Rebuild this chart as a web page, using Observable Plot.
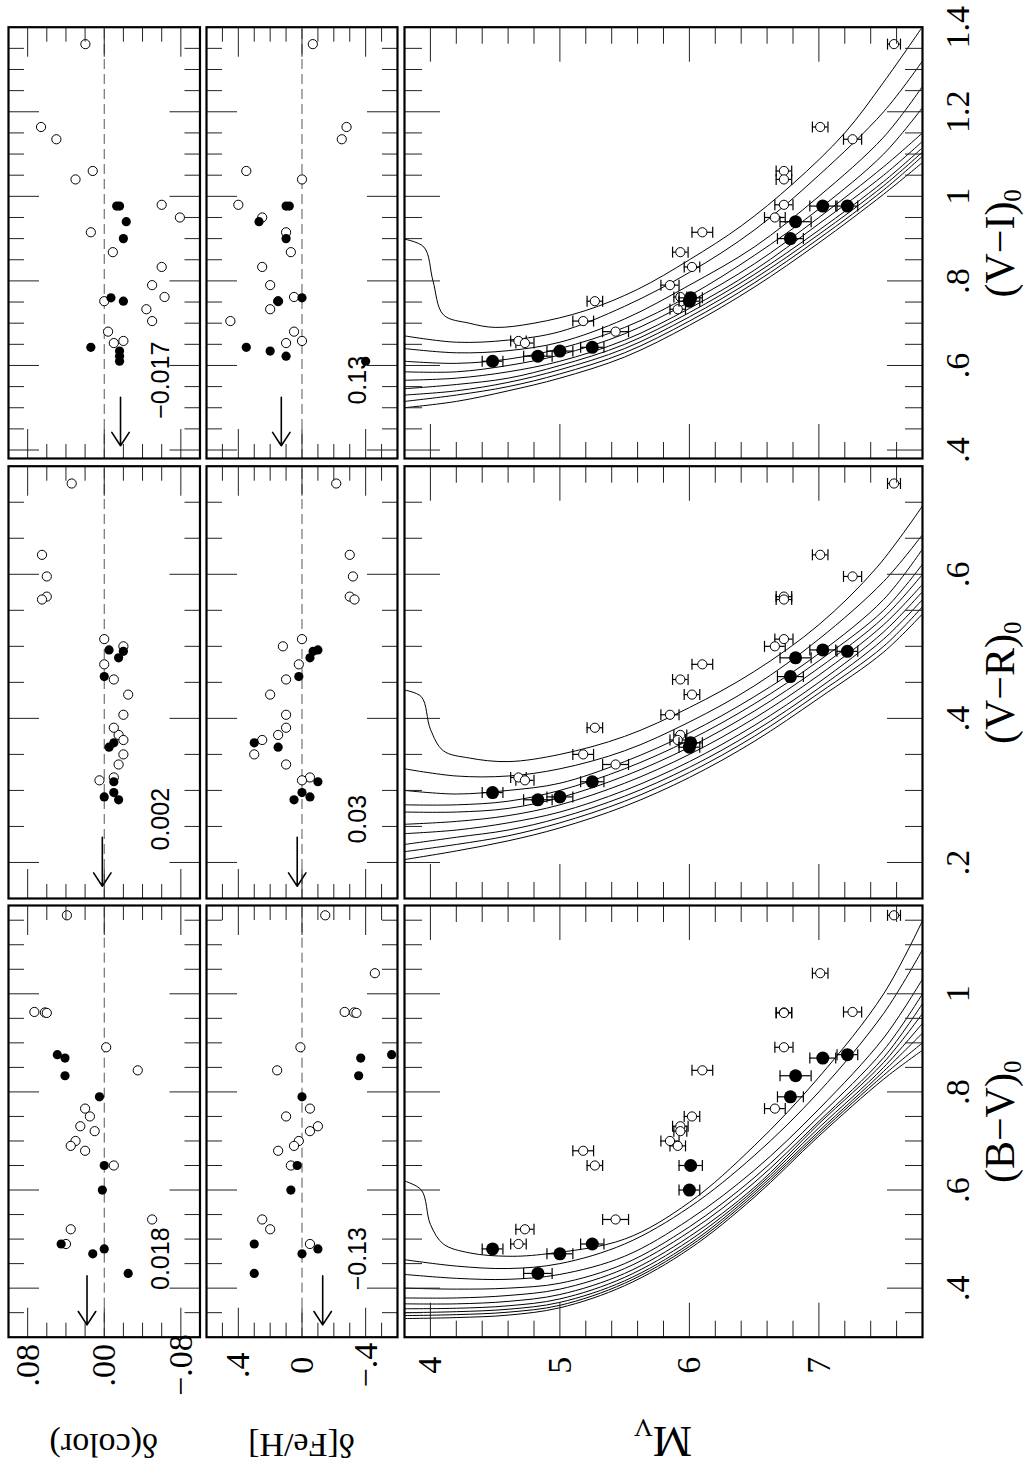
<!DOCTYPE html>
<html>
<head>
<meta charset="utf-8">
<script src="https://cdn.jsdelivr.net/npm/d3@7"></script>
<script src="https://cdn.jsdelivr.net/npm/@observablehq/plot@0.6"></script>
<style>
  html, body { margin: 0; padding: 0; background: #fff; }
  body { width: 1028px; height: 1469px; position: relative; overflow: hidden; }
  /* the figure is laid out in landscape and turned a quarter turn */
  #fig { position: absolute; left: 0; top: 0; width: 1469px; height: 1028px;
         transform-origin: 0 0; transform: translate(0, 1469px) rotate(-90deg); }
  #fig svg { position: absolute; overflow: visible; }
</style>
</head>
<body>
<div id="fig"></div>
<script>
// ---------------- data ----------------
// one entry per star
const starMv     = [7.58, 7.01, 7.26, 6.73, 6.73, 6.73, 6.66, 6.10, 5.93, 6.02, 5.85, 5.93, 5.91, 5.27, 5.18, 5.43, 4.68, 4.73,
                    7.03, 7.22, 6.82, 6.78, 6.01, 6.00, 5.25, 5.00, 4.83, 4.48];
const starMvErr  = [0.05, 0.06, 0.07, 0.06, 0.06, 0.07, 0.08, 0.08, 0.06, 0.06, 0.07, 0.05, 0.06, 0.06, 0.08, 0.10, 0.06, 0.07,
                    0.10, 0.08, 0.12, 0.10, 0.09, 0.08, 0.09, 0.10, 0.11, 0.08];
const starFilled = [0,0,0,0,0,0,0,0,0,0,0,0,0,0,0,0,0,0, 1,1,1,1,1,1,1,1,1,1];

const colorBV = [1.16, 1.042, 0.963, 0.962, 0.961, 0.891, 0.766, 0.844, 0.73, 0.75, 0.70, 0.72, 0.69, 0.65, 0.68, 0.54, 0.49, 0.52,
                 0.869, 0.876, 0.833, 0.79, 0.65, 0.60, 0.49, 0.47, 0.43, 0.48];
const colorVR = [0.726, 0.627, 0.597, 0.569, 0.565, 0.51, 0.50, 0.475, 0.454, 0.433, 0.405, 0.377, 0.37, 0.387, 0.35, 0.336, 0.318, 0.314,
                 0.495, 0.493, 0.484, 0.458, 0.366, 0.36, 0.312, 0.291, 0.287, 0.297];
const colorVI = [1.36, 1.164, 1.135, 1.06, 1.04, 0.98, 0.95, 0.915, 0.868, 0.833, 0.79, 0.762, 0.733, 0.752, 0.705, 0.68, 0.658, 0.653,
                 0.977, 0.977, 0.94, 0.90, 0.76, 0.752, 0.643, 0.634, 0.622, 0.61];

// NaN: offset falls outside the panel
const dColorBV = [0.039, NaN, 0.073, 0.062, 0.060, -0.002, 0.02, -0.035, 0.025, 0.015, 0.03, 0.01, 0.035, -0.01, 0.02, -0.05, 0.04, 0.035,
                  0.041, 0.049, 0.041, 0.005, 0.0, 0.002, 0.045, 0.012, -0.025, 0.0];
const dColorVR = [0.034, 0.065, 0.06, 0.06, 0.065, 0.0, -0.02, 0.0, -0.01, -0.025, -0.02, -0.015, -0.02, -0.01, -0.02, -0.015, -0.01, 0.005,
                  -0.005, -0.02, -0.015, 0.0, -0.01, -0.005, -0.01, 0.0, -0.015, -0.01];
const dColorVI = [0.0197, 0.066, 0.05, 0.012, 0.03, -0.06, -0.079, 0.014, -0.009, -0.06, -0.05, -0.063, -0.044, 0.0, -0.05, -0.004, -0.02, -0.01,
                  -0.013, -0.016, -0.023, -0.02, -0.007, -0.02, 0.014, -0.016, -0.016, -0.016];

const dFeBV = [-0.146, -0.458, -0.268, -0.327, -0.342, 0.01, -0.05, 0.156, -0.1, 0.1, 0.02, -0.05, 0.05, 0.07, 0.15, 0.25, -0.05, 0.2,
               -0.369, -0.563, -0.356, 0.0, 0.03, 0.07, 0.3, 0.0, 0.3, -0.1];
const dFeVR = [-0.215, -0.3, -0.32, -0.3, -0.33, 0.0, 0.12, 0.02, 0.1, 0.2, 0.1, 0.15, 0.25, 0.1, 0.3, 0.1, -0.05, 0.0,
               -0.1, -0.07, -0.05, 0.02, 0.3, 0.15, -0.1, -0.05, 0.05, 0.0];
const dFeVI = [-0.068, -0.28, -0.25, 0.35, 0.0, 0.4, 0.25, 0.1, 0.07, 0.25, 0.2, 0.05, 0.2, 0.15, 0.45, 0.05, 0.0, 0.1,
               0.1, 0.08, 0.27, 0.1, 0.0, 0.15, 0.35, 0.2, 0.1, -0.4];

// mean offsets marked by the arrows and printed in each panel
const meanColorShift = [0.018, 0.002, -0.017];   // B−V, V−R, V−I
const meanFeShift    = [-0.13, 0.03, 0.13];
const shiftDigits    = [[3, 3, 3], [2, 2, 2]];

// isochrones: colour at each M_V level of the grid (nine main sequences per colour),
// plus one curve per colour that turns over into the subgiant branch
const mvGrid = [3.8, 4.2, 4.6, 5.0, 5.5, 6.0, 6.5, 7.0, 7.5, 7.8];
const seqBV = [
  [0.458, 0.445, 0.44, 0.45, 0.49, 0.565, 0.67, 0.80, 0.96, 1.09],
  [0.428, 0.42, 0.418, 0.428, 0.465, 0.54, 0.64, 0.765, 0.91, 1.03],
  [0.40, 0.398, 0.40, 0.41, 0.45, 0.525, 0.625, 0.75, 0.885, 1.00],
  [0.38, 0.38, 0.385, 0.398, 0.44, 0.515, 0.615, 0.74, 0.87, 0.98],
  [0.368, 0.368, 0.373, 0.387, 0.43, 0.505, 0.605, 0.735, 0.86, 0.96],
  [0.358, 0.359, 0.364, 0.378, 0.422, 0.497, 0.60, 0.727, 0.85, 0.94],
  [0.35, 0.352, 0.357, 0.371, 0.415, 0.49, 0.595, 0.72, 0.842, 0.92],
  [0.344, 0.346, 0.351, 0.365, 0.41, 0.485, 0.59, 0.715, 0.834, 0.90],
  [0.338, 0.34, 0.345, 0.36, 0.405, 0.48, 0.585, 0.71, 0.826, 0.885]
];
const turnBV = [[0.62, 3.78], [0.60, 3.93], [0.53, 4.0], [0.49, 4.1], [0.472, 4.3], [0.465, 4.6], [0.47, 4.9],
                [0.50, 5.5], [0.575, 6.0], [0.69, 6.5], [0.83, 7.0], [1.0, 7.5], [1.16, 7.82]];
const seqVR = [
  [0.33, 0.32, 0.32, 0.33, 0.355, 0.395, 0.445, 0.51, 0.59, 0.655],
  [0.30, 0.295, 0.30, 0.31, 0.34, 0.38, 0.43, 0.49, 0.565, 0.635],
  [0.28, 0.28, 0.285, 0.30, 0.33, 0.37, 0.42, 0.48, 0.55, 0.614],
  [0.27, 0.27, 0.275, 0.29, 0.32, 0.36, 0.41, 0.47, 0.54, 0.60],
  [0.253, 0.257, 0.265, 0.28, 0.31, 0.35, 0.40, 0.46, 0.53, 0.586],
  [0.24, 0.245, 0.255, 0.27, 0.30, 0.34, 0.39, 0.45, 0.52, 0.576],
  [0.225, 0.235, 0.245, 0.262, 0.292, 0.332, 0.382, 0.442, 0.51, 0.565],
  [0.215, 0.225, 0.237, 0.255, 0.285, 0.325, 0.375, 0.435, 0.50, 0.555],
  [0.204, 0.216, 0.23, 0.248, 0.278, 0.318, 0.368, 0.428, 0.492, 0.545]
];
const turnVR = [[0.44, 3.78], [0.43, 3.93], [0.385, 4.0], [0.355, 4.1], [0.345, 4.3], [0.34, 4.6], [0.35, 5.0],
                [0.375, 5.5], [0.415, 6.0], [0.465, 6.5], [0.53, 7.0], [0.61, 7.45], [0.70, 7.82]];
const seqVI = [
  [0.67, 0.655, 0.66, 0.68, 0.74, 0.82, 0.92, 1.05, 1.20, 1.32],
  [0.64, 0.63, 0.635, 0.655, 0.71, 0.79, 0.88, 1.00, 1.14, 1.26],
  [0.61, 0.605, 0.615, 0.64, 0.69, 0.765, 0.86, 0.97, 1.10, 1.21],
  [0.585, 0.585, 0.60, 0.625, 0.675, 0.75, 0.84, 0.95, 1.07, 1.15],
  [0.565, 0.57, 0.585, 0.61, 0.66, 0.735, 0.825, 0.935, 1.05, 1.13],
  [0.545, 0.555, 0.57, 0.60, 0.65, 0.725, 0.815, 0.92, 1.035, 1.115],
  [0.53, 0.54, 0.56, 0.59, 0.64, 0.715, 0.805, 0.91, 1.025, 1.105],
  [0.515, 0.53, 0.55, 0.58, 0.63, 0.705, 0.795, 0.90, 1.015, 1.095],
  [0.50, 0.515, 0.54, 0.57, 0.62, 0.695, 0.785, 0.89, 1.005, 1.08]
];
const turnVI = [[0.90, 3.78], [0.88, 3.95], [0.80, 4.02], [0.72, 4.1], [0.70, 4.3], [0.69, 4.5], [0.70, 4.8],
                [0.73, 5.2], [0.78, 5.6], [0.85, 6.0], [0.93, 6.4], [1.03, 6.8], [1.15, 7.2], [1.27, 7.5], [1.41, 7.82]];

// tick labels
const labelsBV = [".4", ".6", ".8", "1"];
const labelsVR = [".2", ".4", ".6"];
const labelsVI = [".4", ".6", ".8", "1", "1.2", "1.4"];
const labelsDColor = ["−.08", ".00", ".08"];
const labelsDFe = ["−.4", "0", ".4"];
const labelsMv = ["4", "5", "6", "7"];

// ---------------- layout ----------------
const SERIF = "'Liberation Serif', 'Times New Roman', serif";
const SANS = "'Liberation Sans', Arial, sans-serif";
const FIG_H = 1028;

const stars = starMv.map((mv, i) => ({
  mv, err: starMvErr[i], filled: starFilled[i] === 1,
  BV: colorBV[i], VR: colorVR[i], VI: colorVI[i],
  dcBV: dColorBV[i], dcVR: dColorVR[i], dcVI: dColorVI[i],
  dfBV: dFeBV[i], dfVR: dFeVR[i], dfVI: dFeVI[i]
}));
const openStars = stars.filter(d => !d.filled);
const filledStars = stars.filter(d => d.filled);

const columns = [
  {key: "BV", x0: 131.3, x1: 563, domain: [0.3, 1.18], major: [0.4, 0.6, 0.8, 1.0], labels: labelsBV,
   title: "(B−V)", seq: seqBV, turn: turnBV, arrow: [0.425, 0.325], note: 0.46},
  {key: "VR", x0: 570, x1: 1002.3, domain: [0.15, 0.75], major: [0.2, 0.4, 0.6], labels: labelsVR,
   title: "(V−R)", seq: seqVR, turn: turnVR, arrow: [0.235, 0.167], note: 0.26},
  {key: "VI", x0: 1009.7, x1: 1441, domain: [0.38, 1.4], major: [0.4, 0.6, 0.8, 1.0, 1.2, 1.4], labels: labelsVI,
   title: "(V−I)", seq: seqVI, turn: turnVI, arrow: [0.525, 0.41], note: 0.565}
];
const rows = [
  {key: "dc", y0: 7.5, y1: 199, domain: [-0.1, 0.1], reverse: false, major: [-0.08, 0, 0.08], labels: labelsDColor,
   minor: 0.02, tMaj: 30, tMin: 15, title: "δ(color)", size: 34, shifts: meanColorShift, noteY: -0.068},
  {key: "df", y0: 206, y1: 397, domain: [-0.6, 0.6], reverse: false, major: [-0.4, 0, 0.4], labels: labelsDFe,
   minor: 0.1, tMaj: 30, tMin: 15, title: "δ[Fe/H]", size: 34, shifts: meanFeShift, noteY: -0.40},
  {key: "mv", y0: 404, y1: 922, domain: [3.8, 7.8], reverse: true, major: [4, 5, 6, 7], labels: labelsMv,
   minor: 0.2, tMaj: 35, tMin: 17, title: "M", sub: "V", size: 44}
];

function minorTicks(domain, step, major) {
  const [a, b] = d3.extent(domain);
  const out = [];
  for (let k = Math.ceil(a / step - 1e-9); k * step <= b + 1e-9; k++) {
    const v = +(k * step).toFixed(6);
    if (v > a + 1e-9 && v < b - 1e-9 && !major.some(m => Math.abs(m - v) < 1e-9)) out.push(v);
  }
  return out;
}
const labelOf = (values, labels) => d => labels[values.findIndex(v => Math.abs(v - d) < 1e-9)];

// inward ticks on all four sides of a panel
function panelTicks(col, row) {
  const common = {fill: "none", label: null, stroke: "#222", strokeWidth: 1};
  const xMinor = minorTicks(col.domain, 0.05, col.major);
  const yMinor = minorTicks(row.domain, row.minor, row.major);
  const out = [];
  for (const anchor of ["top", "bottom"]) {
    out.push(Plot.axisX({...common, anchor, ticks: col.major, tickSize: -row.tMaj}));
    out.push(Plot.axisX({...common, anchor, ticks: xMinor, tickSize: -row.tMin}));
  }
  for (const anchor of ["left", "right"]) {
    out.push(Plot.axisY({...common, anchor, ticks: row.major, tickSize: -row.tMaj}));
    out.push(Plot.axisY({...common, anchor, ticks: yMinor, tickSize: -row.tMin}));
  }
  return out;
}

// error-bar cap drawn as a short horizontal stroke
const capSymbol = {draw(context, size) { const w = Math.sqrt(size / Math.PI); context.moveTo(-w, 0); context.lineTo(w, 0); }};

function addTitle(svg, {x, y, rotate, size, main, sub, subSize, subShift}) {
  const t = d3.select(svg).append("text")
    .attr("transform", `translate(${x},${y})` + (rotate ? ` rotate(${rotate})` : ""))
    .attr("text-anchor", "middle").attr("font-family", SERIF).attr("font-size", size).attr("fill", "black");
  t.append("tspan").text(main);
  if (sub) t.append("tspan").attr("font-size", subSize).attr("dy", subShift).text(sub);
}

const fig = document.getElementById("fig");

columns.forEach((col, ci) => {
  rows.forEach((row, ri) => {
    const first = ci === 0, bottom = row.key === "mv";
    const ml = first ? col.x0 : 3, mr = 3, mt = 3, mb = bottom ? FIG_H - row.y1 : 3;
    const w = col.x1 - col.x0, h = row.y1 - row.y0;
    const marks = [];
    const line = {x: d => d[0], y: d => d[1], curve: "catmull-rom", clip: true, stroke: "black", strokeWidth: 1};

    if (row.key === "mv") {
      for (const s of col.seq) marks.push(Plot.line(mvGrid.map((mv, i) => [s[i], mv]), line));
      marks.push(Plot.line(col.turn, line));
      for (const [set, r] of [[openStars, 4.6], [filledStars, 6.5]]) {
        marks.push(Plot.ruleX(set, {x: col.key, y1: d => d.mv - d.err, y2: d => d.mv + d.err, stroke: "black", strokeWidth: 1.2}));
        marks.push(Plot.dot(set, {x: col.key, y: d => d.mv - d.err, symbol: capSymbol, r: 5.5, stroke: "black", strokeWidth: 1.2}));
        marks.push(Plot.dot(set, {x: col.key, y: d => d.mv + d.err, symbol: capSymbol, r: 5.5, stroke: "black", strokeWidth: 1.2}));
        marks.push(set === openStars
          ? Plot.dot(set, {x: col.key, y: "mv", r, stroke: "black", strokeWidth: 1, fill: "white"})
          : Plot.dot(set, {x: col.key, y: "mv", r, fill: "black"}));
      }
    } else {
      const yKey = row.key + col.key;
      const shift = row.shifts[ci];
      marks.push(Plot.ruleY([0], {stroke: "#555", strokeWidth: 1, strokeDasharray: "10,5"}));
      marks.push(Plot.dot(openStars, {x: col.key, y: yKey, r: 4.6, stroke: "black", strokeWidth: 1, fill: "white"}));
      marks.push(Plot.dot(filledStars, {x: col.key, y: yKey, r: 4.6, fill: "black"}));
      marks.push(Plot.arrow([shift], {x1: () => col.arrow[0], x2: () => col.arrow[1], y1: d => d, y2: d => d,
        stroke: "black", strokeWidth: 1.6, headLength: 15, headAngle: 66}));
      const digits = shiftDigits[ri][ci];
      marks.push(Plot.text([shift], {x: () => col.note, y: () => row.noteY, text: d => d.toFixed(digits).replace("-", "−"),
        fontFamily: SANS, fontSize: 25, lineAnchor: "bottom", textAnchor: "middle", fill: "black"}));
    }
    marks.push(...panelTicks(col, row));
    marks.push(Plot.frame({stroke: "black", strokeWidth: 2.2}));
    if (first) {
      marks.push(Plot.axisY({anchor: "left", ticks: row.major, tickSize: 0, tickPadding: 28, textAnchor: "middle",
        tickFormat: labelOf(row.major, row.labels), fontSize: 34, label: null, fill: "black"}));
    }
    if (bottom) {
      marks.push(Plot.axisX({anchor: "bottom", ticks: col.major, tickSize: 0, tickPadding: 22,
        tickFormat: labelOf(col.major, col.labels), fontSize: 34, label: null, fill: "black"}));
    }

    const svg = Plot.plot({
      width: w + ml + mr, height: h + mt + mb,
      marginLeft: ml, marginRight: mr, marginTop: mt, marginBottom: mb,
      x: {domain: col.domain},
      y: {domain: row.domain, reverse: row.reverse},
      style: {background: "transparent", fontFamily: SERIF, fontSize: "34px", color: "black", overflow: "visible", maxWidth: "none"},
      marks
    });
    svg.style.left = (col.x0 - ml) + "px";
    svg.style.top = (row.y0 - mt) + "px";
    fig.appendChild(svg);

    if (first) {
      addTitle(svg, {x: (row.sub ? 42 : 35) - (col.x0 - ml), y: (row.y0 + row.y1) / 2 - (row.y0 - mt), rotate: -90,
        size: row.size, main: row.title, sub: row.sub, subSize: 26, subShift: 8});
    }
    if (bottom) {
      addTitle(svg, {x: (col.x0 + col.x1) / 2 - (col.x0 - ml), y: 1014 - (row.y0 - mt), size: 42,
        main: col.title, sub: "0", subSize: 25, subShift: 7});
    }
  });
});
</script>
</body>
</html>
